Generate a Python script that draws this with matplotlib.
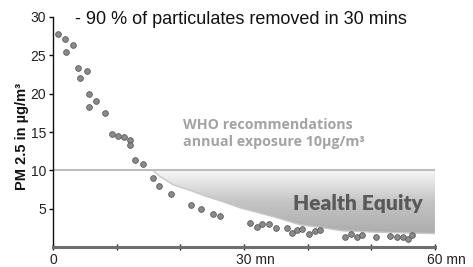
import numpy as np
import matplotlib
matplotlib.use("Agg")
import matplotlib.pyplot as plt
from matplotlib.patches import Polygon
from matplotlib.colors import LinearSegmentedColormap
import matplotlib.transforms as mtransforms

# ---- data ----
time_min = [0.8, 1.9, 2.1, 3.1, 3.9, 4.3, 5.4, 5.7, 5.7, 6.7, 8.1, 9.2, 10.2, 11.2,
            12.1, 12.1, 12.9, 14.2, 15.75, 16.7, 18.6, 21.7, 23.2, 25.2, 26.2,
            30.9, 32.0, 32.9, 34.0, 35.1, 36.8, 37.5, 38.3, 39.1, 40.2, 41.1, 42.0,
            45.8, 46.8, 47.8, 48.6, 50.8, 52.9, 54.0, 54.9, 55.8, 56.4]
pm25 = [27.8, 27.1, 25.4, 26.4, 23.3, 22.1, 22.9, 19.9, 18.2, 19.0, 17.5, 14.8, 14.5, 14.3,
        13.95, 13.3, 11.4, 10.8, 8.95, 7.9, 6.9, 5.5, 4.9, 4.35, 4.0,
        3.08, 2.6, 2.96, 3.04, 2.45, 2.5, 1.87, 2.2, 2.35, 1.7, 2.04, 2.2,
        1.3, 1.7, 1.35, 1.56, 1.35, 1.48, 1.26, 1.35, 1.04, 1.56]

who_limit = 10
curve_x = [15.7, 16.8, 18.9, 21.5, 24.1, 26.7, 29.4, 34.6, 38.8, 42.4, 45.5, 50.2, 55.0, 60.0]
curve_y = [10.0, 9.2, 8.1, 7.4, 6.6, 5.9, 5.1, 3.95, 2.9, 2.5, 2.1, 1.95, 1.85, 1.75]

x_ticks = [0, 10, 20, 30, 40, 50, 60]
x_tick_labels = ['0', '', '', '30 mn', '', '', '60 mn']
y_ticks = [5, 10, 15, 20, 25, 30]

title = "- 90 % of particulates removed in 30 mins"
ylabel = "PM 2.5 in µg/m³"
who_text = "WHO recommendations\nannual exposure 10µg/m³"
zone_text = "Health Equity"

# ---- figure ----
fig = plt.figure(figsize=(4.73, 2.67), dpi=100)
ax = fig.add_axes([53/473, 1-247/267, (435-53)/473, (247-17)/267])
ax.set_xlim(0, 60)
ax.set_ylim(0, 30)

# gradient zone
verts = np.column_stack([list(curve_x) + [curve_x[-1], curve_x[0]],
                         list(curve_y) + [who_limit, who_limit]])
poly = Polygon(verts, closed=True, facecolor='none', edgecolor='none')
ax.add_patch(poly)
cmap = LinearSegmentedColormap.from_list('g', ['#acacac', '#c4c4c4', '#f8f8f8'])
grad = np.linspace(0, 1, 256).reshape(-1, 1)
im = ax.imshow(grad, extent=[curve_x[0], curve_x[-1], min(curve_y), who_limit],
               origin='lower', aspect='auto', cmap=cmap, zorder=1, interpolation='bicubic')
im.set_clip_path(poly)
ax.plot(curve_x, curve_y, color='#c8c8c8', lw=1, zorder=2)
ax.plot([curve_x[-1], curve_x[-1]], [curve_y[-1], who_limit], color='#cfcfcf', lw=1, zorder=2)
ax.plot([0, 60], [who_limit, who_limit], color='#bdbdbd', lw=1.5, zorder=2)
ax.set_xlim(0, 60)
ax.set_ylim(0, 30)

# points
ax.scatter(time_min, pm25, s=17, facecolor='#8a8a8a', edgecolor='#5c5c5c',
           linewidth=0.6, zorder=4, clip_on=False)

# texts
ax.text(47.9, 5.7, zone_text, ha='center', va='center', fontsize=15,
        fontweight='heavy', color='#595959', family='Lato', zorder=3)
ax.text(20.4, 14.8, who_text, ha='left', va='center', fontsize=10.3,
        fontweight='bold', color='#a3a3a3', family='Open Sans', linespacing=1.2, zorder=3)
fig.text(75/473, 1-20/267, title, ha='left', va='center', fontsize=13,
         family='Liberation Sans', color='#111111')
fig.text(22.5/473, 1-136/267, ylabel, rotation=90, ha='center', va='center',
         fontsize=10.5, fontweight='bold', family='Liberation Sans', color='#111111')

# axes styling
for s in ['top', 'right']:
    ax.spines[s].set_visible(False)
ax.spines['left'].set_color('#111111')
ax.spines['left'].set_linewidth(1.0)
ax.spines['bottom'].set_color('#6e6e6e')
ax.spines['bottom'].set_linewidth(2.2)
ax.set_xticks(x_ticks)
ax.set_xticklabels(x_tick_labels)
ax.set_yticks(y_ticks)
ax.tick_params(axis='y', direction='out', length=3, width=1, color='#111111',
               labelsize=10, pad=2, labelcolor='#222222')
ax.tick_params(axis='x', direction='inout', length=4, width=1, color='#222222',
               labelsize=10, pad=2, labelcolor='#222222')
for lab in ax.get_yticklabels() + ax.get_xticklabels():
    lab.set_family('Liberation Sans')
for lab in ax.get_xticklabels():
    if lab.get_text() and lab.get_text() != '0':
        lab.set_ha('left')
        lab.set_transform(lab.get_transform() +
                          mtransforms.ScaledTranslation(-6/72, 0, fig.dpi_scale_trans))

fig.savefig('out.png', dpi=100)
